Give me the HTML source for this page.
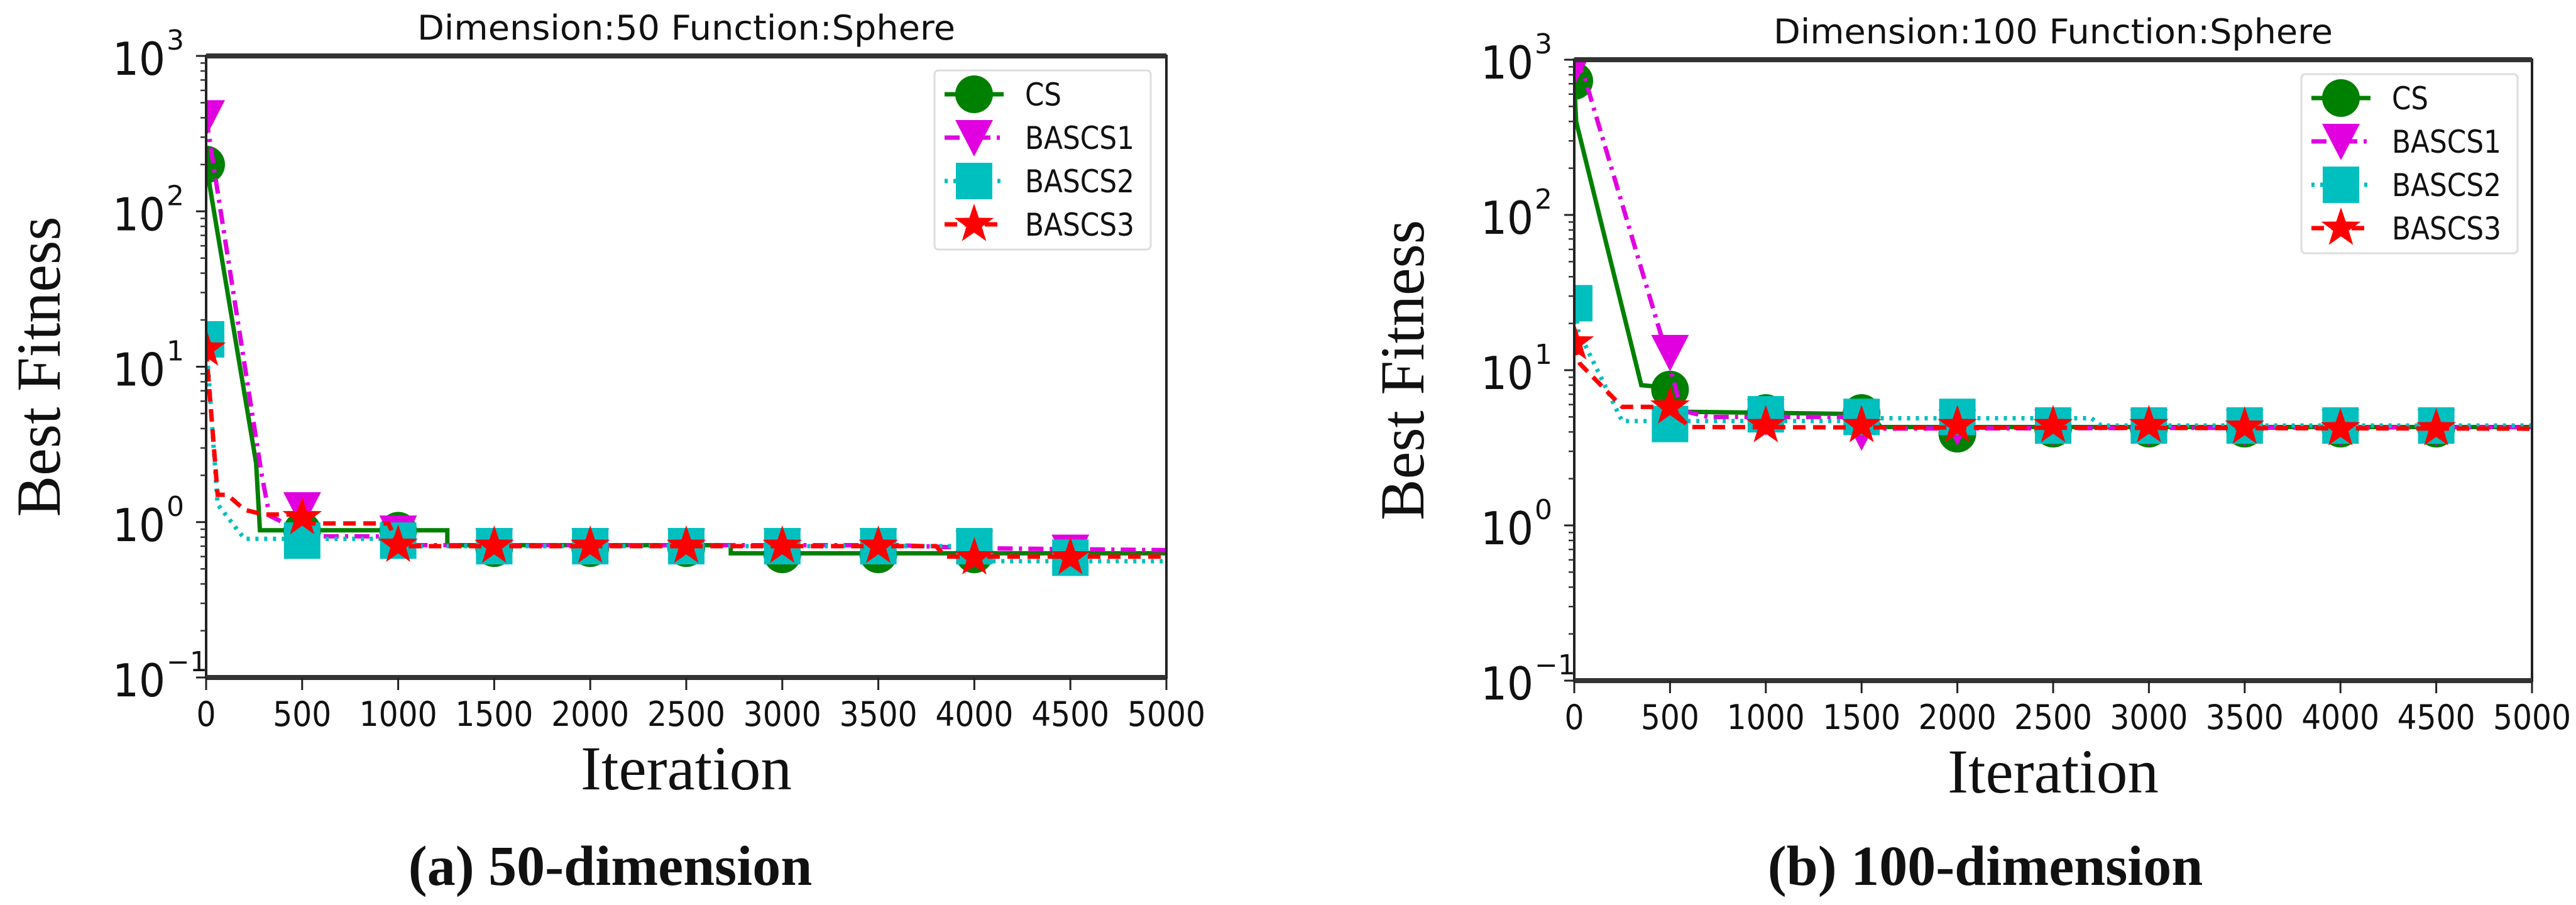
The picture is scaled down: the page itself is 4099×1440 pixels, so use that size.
<!DOCTYPE html>
<html><head><meta charset="utf-8"><style>
html,body{margin:0;padding:0;background:#fff;}
svg{display:block;}
</style></head><body>
<svg id="fig" xmlns="http://www.w3.org/2000/svg" width="4099" height="1440" viewBox="0 0 4099 1440"></svg>
<script>
// ---- data ----
const xTicks = [0,500,1000,1500,2000,2500,3000,3500,4000,4500,5000];
const yDecades = [-1,0,1,2,3];
const seriesNames = ["CS","BASCS1","BASCS2","BASCS3"];
const markerIters = [0,500,1000,1500,2000,2500,3000,3500,4000,4500];

// Chart A (50-dimension)
const a_cs_x = [0,260,280,1256,1256,2732,2732,5000];
const a_cs_y = [200,2.4,0.886,0.886,0.71,0.71,0.63,0.63];
const a_b1_x = [0,290,330,545,1000,1050,3600,4000,5000];
const a_b1_y = [400,2.0,1.1,0.81,0.81,0.71,0.71,0.68,0.66];
const a_b2_x = [0,60,200,1000,1050,4000,4050,5000];
const a_b2_y = [15,1.3,0.78,0.78,0.70,0.70,0.56,0.56];
const a_b3_x = [0,60,110,200,300,500,550,950,1000,3800,3850,5000];
const a_b3_y = [13,1.5,1.5,1.2,1.12,1.12,0.98,0.98,0.70,0.70,0.60,0.60];
const a_cs_m = [200,0.88,0.88,0.68,0.68,0.68,0.62,0.62,0.62,0.62];
const a_b1_m = [400,1.2,0.85,0.70,0.70,0.70,0.70,0.70,0.68,0.64];
const a_b2_m = [15,0.76,0.76,0.70,0.70,0.70,0.70,0.70,0.70,0.59];
const a_b3_m = [13,1.07,0.71,0.70,0.70,0.70,0.70,0.70,0.59,0.59];

// Chart B (100-dimension)
const b_cs_x = [0,10,350,450,560,1550,1600,5000];
const b_cs_y = [730,400,8,7.8,5.4,5.2,4.3,4.3];
const b_b1_x = [0,50,480,560,700,1450,1500,5000];
const b_b1_y = [1000,800,13,5.5,5,5,4.2,4.3];
const b_b2_x = [0,20,250,1500,1550,2700,2750,5000];
const b_b2_y = [27,18,4.7,4.7,4.9,4.9,4.4,4.4];
const b_b3_x = [0,30,250,500,600,5000];
const b_b3_y = [15,11,5.8,5.8,4.3,4.2];
const b_cs_m = [730,7.5,5.3,5.3,3.9,4.2,4.2,4.2,4.2,4.2];
const b_b1_m = [900,13,5,4,4.3,4.3,4.3,4.3,4.3,4.3];
const b_b2_m = [27,4.5,5.2,5,5,4.4,4.4,4.4,4.4,4.4];
const b_b3_m = [15,5.8,4.4,4.4,4.4,4.4,4.4,4.3,4.2,4.2];

const NS="http://www.w3.org/2000/svg";
const svg=document.getElementById('fig');
function mk(tag,attrs,parent){const e=document.createElementNS(NS,tag);for(const k in attrs)e.setAttribute(k,attrs[k]);(parent||svg).appendChild(e);return e;}

const styles=[
 {color:"#008000",dash:"",marker:"circle"},
 {color:"#e000e0",dash:"24,10,5,10",marker:"tri"},
 {color:"#00bfbf",dash:"5,9",marker:"square"},
 {color:"#ff0000",dash:"20,12",marker:"star"}
];

function drawMarker(g,type,cx,cy,color){
  let e;
  if(type==="circle"){e=mk('circle',{cx:cx,cy:cy,r:30,fill:color},g);}
  else if(type==="square"){e=mk('rect',{x:cx-29,y:cy-29,width:58,height:58,fill:color},g);}
  else if(type==="tri"){e=mk('polygon',{points:`${cx-30},${cy-28} ${cx+30},${cy-28} ${cx},${cy+30}`,fill:color},g);}
  else {let pts=[];for(let i=0;i<10;i++){const r=i%2?13:33;const a=-Math.PI/2+i*Math.PI/5;pts.push((cx+r*Math.cos(a)).toFixed(1)+","+(cy+r*Math.sin(a)).toFixed(1));}
    e=mk('polygon',{points:pts.join(' '),fill:color},g);}
  return e;
}

function chart(id,box,title,caption,seriesX,seriesY,seriesM,legendBox,ylabX,capX,titleW){
  const g=mk('g',{});
  
  
  const {L,R,T,B}=box;
  const xs=v=>L+(v-0)/(5000)*(R-L);
  const ys=v=>B-(Math.log10(v)-(-1))/4*(B-T);
  // title
  const t=mk('text',{x:(L+R)/2,y:T-26,'text-anchor':'middle','font-family':'DejaVu Sans, sans-serif','font-size':54,fill:'#111',textLength:titleW,lengthAdjust:'spacingAndGlyphs'},g);
  t.textContent=title;
  
  
  // clip
  const cp=mk('clipPath',{id:id+'-clip'},g);
  mk('rect',{x:L,y:T,width:R-L,height:B-T},cp);
  const pg=mk('g',{'clip-path':`url(#${id}-clip)`},g);
  for(let s=0;s<4;s++){
    const st=styles[s];
    const pts=seriesX[s].map((x,i)=>xs(x).toFixed(1)+","+ys(seriesY[s][i]).toFixed(1)).join(' ');
    const pl=mk('polyline',{points:pts,fill:'none',stroke:st.color,'stroke-width':7,'stroke-dasharray':st.dash},pg);
    
    
    markerIters.forEach((it,i)=>{
      const m=drawMarker(pg,st.marker,xs(it),ys(seriesM[s][i]),st.color);
      
      
    });
  }
  // axes frame
  const fr=mk('rect',{x:L,y:T,width:R-L,height:B-T,fill:'none',stroke:'#222','stroke-width':4},g);
  
  
  mk('line',{x1:L,x2:R,y1:T,y2:T,stroke:'#333','stroke-width':8},g);
  mk('line',{x1:L,x2:R,y1:B,y2:B,stroke:'#333','stroke-width':8},g);
  // x ticks
  xTicks.forEach(v=>{
    mk('line',{x1:xs(v),x2:xs(v),y1:B,y2:B+20,stroke:'#222','stroke-width':3},g);
    const s=String(v);
    const tl=mk('text',{x:xs(v),y:B+77,'text-anchor':'middle','font-family':'DejaVu Sans, sans-serif','font-size':54,fill:'#111',textLength:31*s.length,lengthAdjust:'spacingAndGlyphs'},g);
    tl.textContent=s;
    
    
  });
  // y ticks
  yDecades.forEach(d=>{
    const y=ys(Math.pow(10,d));
    mk('line',{x1:L-16,x2:L,y1:y,y2:y,stroke:'#222','stroke-width':3},g);
    if(d<3){for(let k=2;k<10;k++){const yy=ys(k*Math.pow(10,d));mk('line',{x1:L-9,x2:L,y1:yy,y2:yy,stroke:'#333','stroke-width':2.5},g);}}
    const tl=mk('text',{x:L-65,y:y+30,'text-anchor':'end','font-family':'DejaVu Sans, sans-serif','font-size':72,fill:'#111',textLength:84,lengthAdjust:'spacingAndGlyphs'},g);
    tl.textContent='10';
    
    
    const ex=mk('text',{x:L-63,y:y-10,'text-anchor':'start','font-family':'DejaVu Sans, sans-serif','font-size':44,fill:'#111'},g);
    ex.textContent=d<0?'\u2212'+Math.abs(d):String(d);
    
    
  });
  // axis titles
  const xt=mk('text',{x:(L+R)/2,y:B+178,'text-anchor':'middle','font-family':'Liberation Serif, serif','font-size':100,fill:'#111',textLength:336,lengthAdjust:'spacingAndGlyphs'},g);
  xt.textContent='Iteration';
  
  
  const yt=mk('text',{x:0,y:0,'text-anchor':'middle','font-family':'Liberation Serif, serif','font-size':100,fill:'#111',textLength:478,lengthAdjust:'spacingAndGlyphs',transform:`translate(${ylabX},${(T+B)/2}) rotate(-90)`},g);
  yt.textContent='Best Fitness';
  
  
  const cap=mk('text',{x:capX,y:1408,'text-anchor':'middle','font-family':'Liberation Serif, serif','font-size':90,'font-weight':'bold',fill:'#111'},g);
  cap.textContent=caption;
  
  
  // legend
  const lg=mk('g',{},g);
  
  
  mk('rect',{x:legendBox.x,y:legendBox.y,width:legendBox.w,height:legendBox.h,rx:6,fill:'#fff',stroke:'#ddd','stroke-width':3},lg);
  for(let s=0;s<4;s++){
    const st=styles[s];const cy=legendBox.y+38+s*69;
    const lx=legendBox.x+16;
    mk('line',{x1:lx,x2:lx+94,y1:cy,y2:cy,stroke:st.color,'stroke-width':7,'stroke-dasharray':st.dash},lg);
    const lm=drawMarker(lg,st.marker,lx+47,cy,st.color);
    
    
    const tx=mk('text',{x:lx+128,y:cy+18,'font-family':'DejaVu Sans, sans-serif','font-size':50,fill:'#111',textLength:seriesNames[s].length*29,lengthAdjust:'spacingAndGlyphs'},lg);
    tx.textContent=seriesNames[s];
    
    
  }
}

chart('chart-50d',{L:328,R:1856,T:89,B:1078},'Dimension:50  Function:Sphere','(a) 50-dimension',
  [a_cs_x,a_b1_x,a_b2_x,a_b3_x],[a_cs_y,a_b1_y,a_b2_y,a_b3_y],[a_cs_m,a_b1_m,a_b2_m,a_b3_m],
  {x:1487,y:112,w:344,h:285},95,971,856);
chart('chart-100d',{L:2505,R:4029,T:95,B:1083},'Dimension:100  Function:Sphere','(b) 100-dimension',
  [b_cs_x,b_b1_x,b_b2_x,b_b3_x],[b_cs_y,b_b1_y,b_b2_y,b_b3_y],[b_cs_m,b_b1_m,b_b2_m,b_b3_m],
  {x:3662,y:118,w:344,h:285},2265,3159,890);
</script>
</body></html>
